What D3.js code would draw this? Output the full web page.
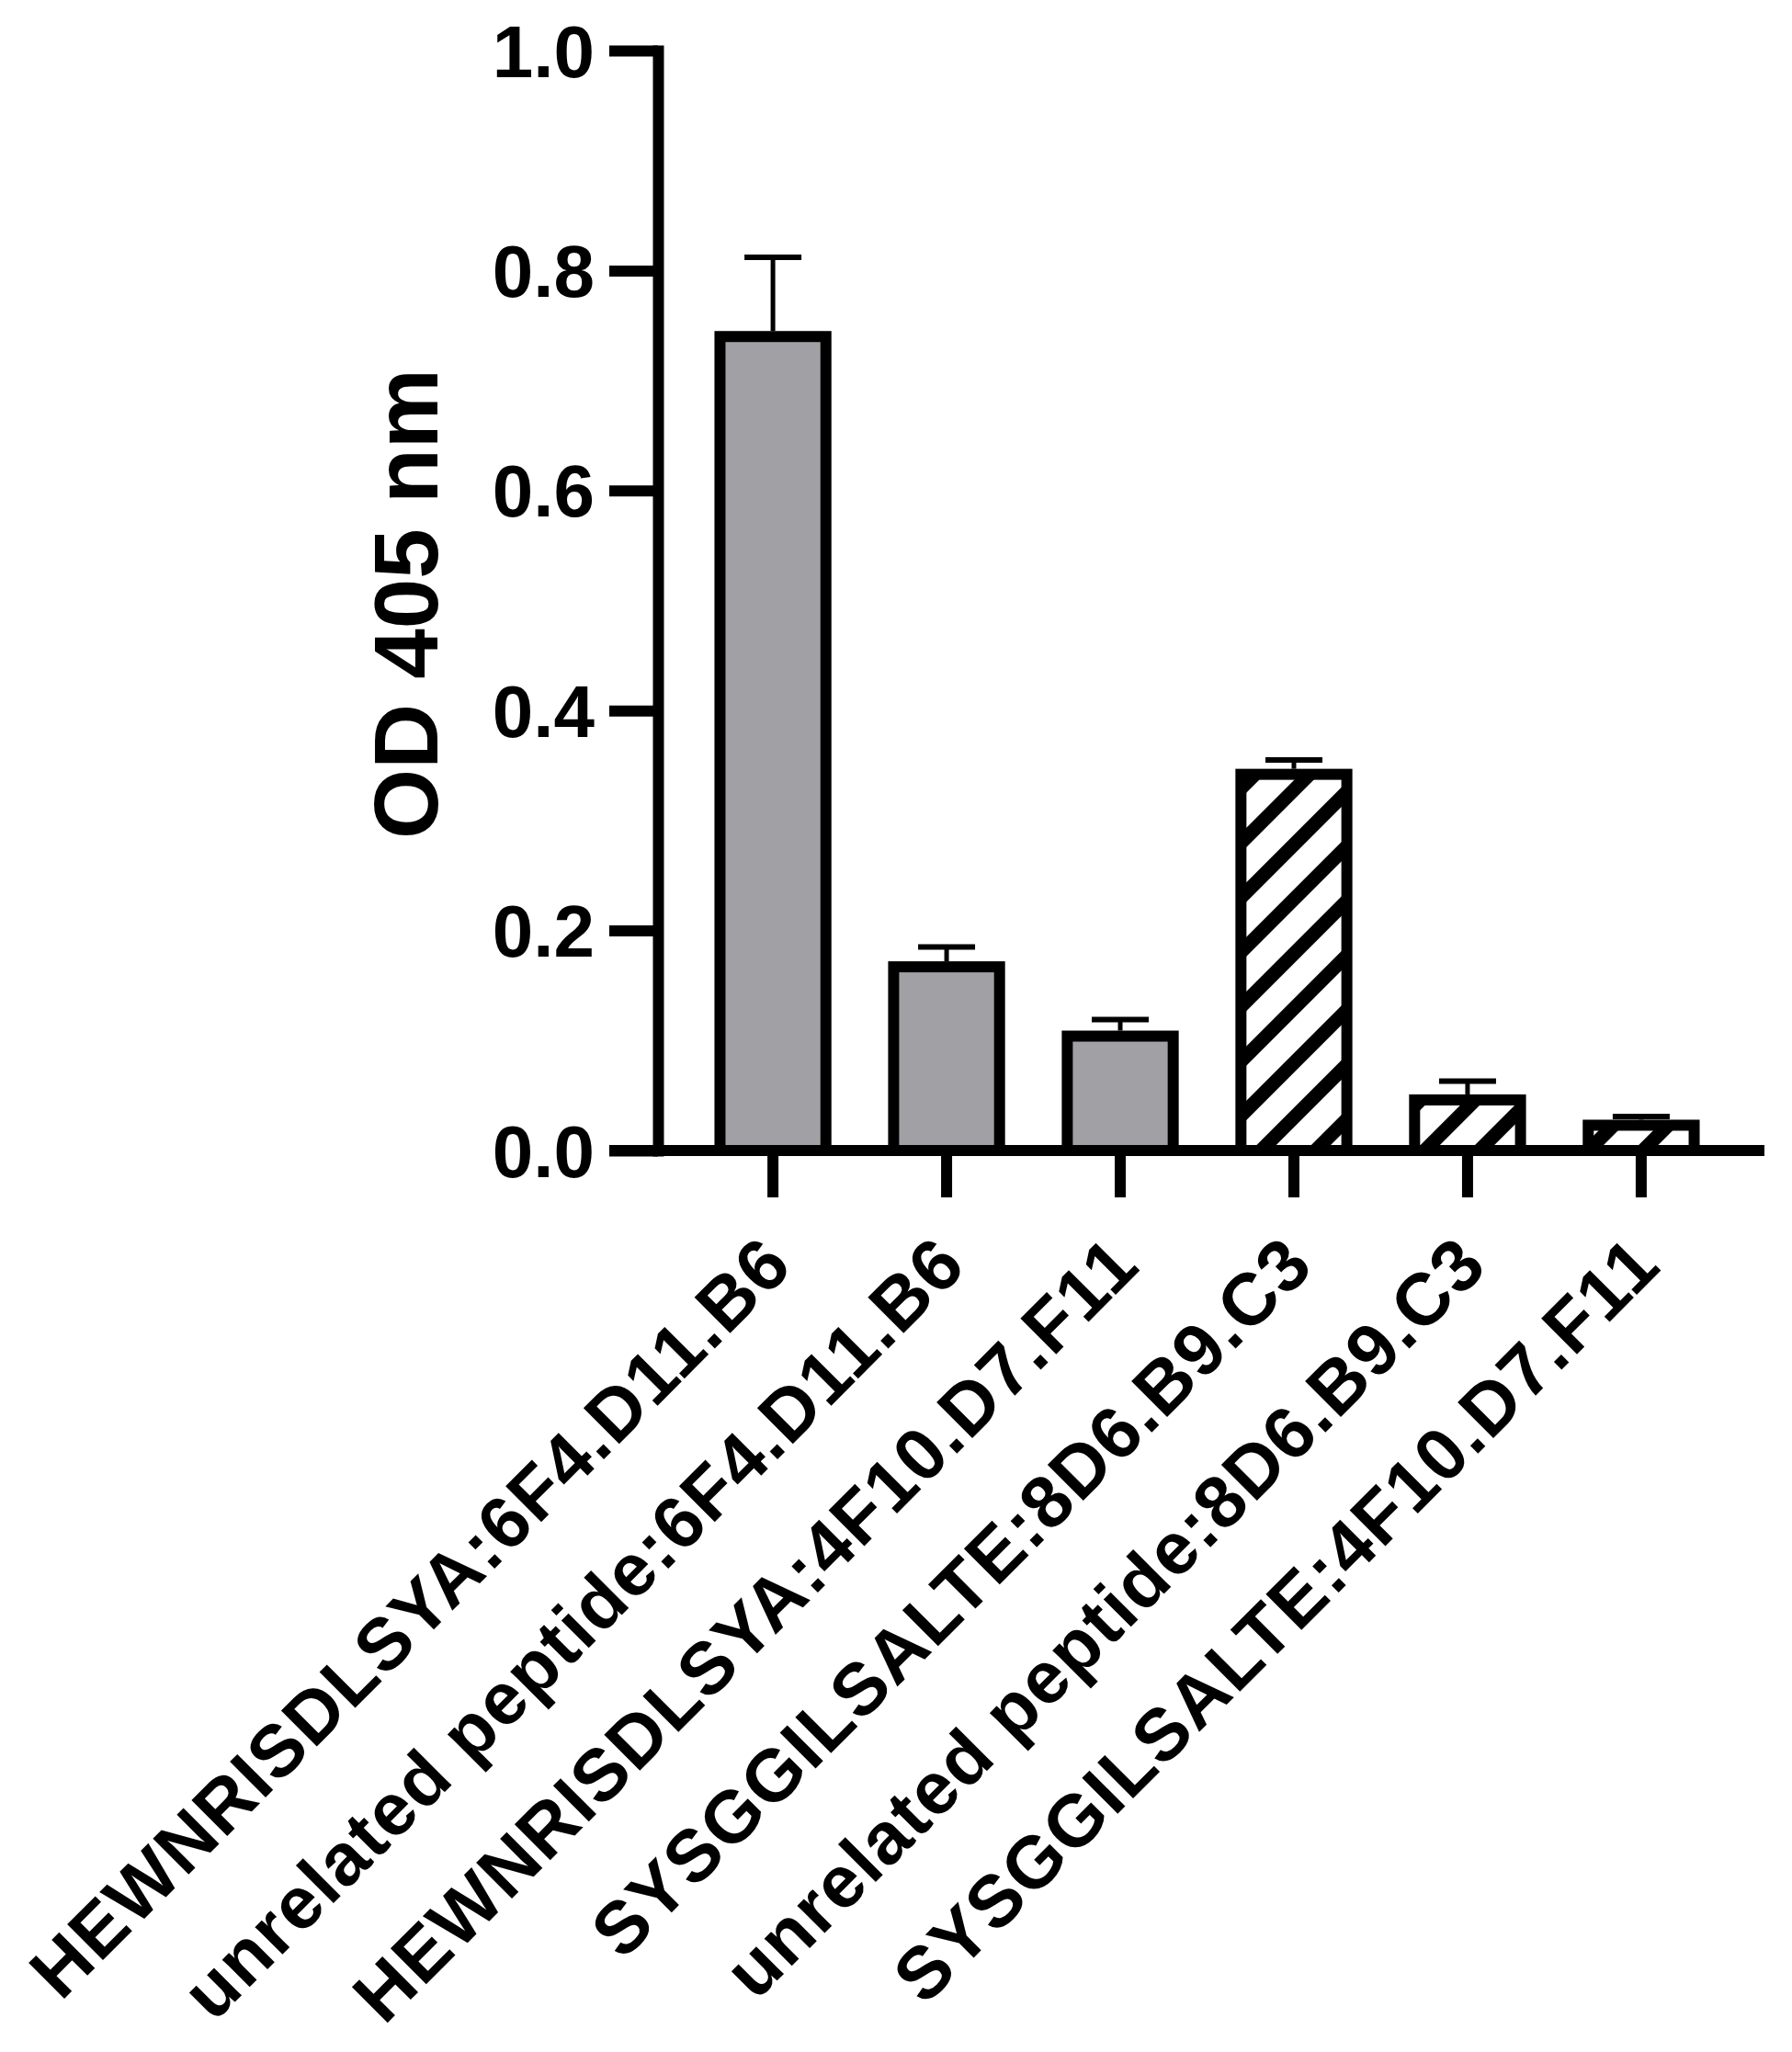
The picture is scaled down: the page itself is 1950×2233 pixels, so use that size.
<!DOCTYPE html>
<html>
<head>
<meta charset="utf-8">
<script src="https://cdn.jsdelivr.net/npm/d3@7"></script>
<style>
  body { margin: 0; background: #fff; }
  svg { display: block; }
  text { font-family: "Liberation Sans", Arial, sans-serif; font-weight: bold; fill: #000; }
</style>
</head>
<body>
<div id="chart"></div>
<script>
// data
const categories = [
  'HEWNRISDLSYA:6F4.D11.B6',
  'unrelated peptide:6F4.D11.B6',
  'HEWNRISDLSYA:4F10.D7.F11',
  'SYSGGILSALTE:8D6.B9.C3',
  'unrelated peptide:8D6.B9.C3',
  'SYSGGILSALTE:4F10.D7.F11'
];
const means = [0.740, 0.167, 0.104, 0.342, 0.046, 0.023];
const errors = [0.072, 0.018, 0.015, 0.013, 0.017, 0.008];
const hatched = [false, false, false, true, true, true];
const yTicks = [0, 0.2, 0.4, 0.6, 0.8, 1.0];
const yTitle = 'OD 405 nm';

const width = 1950, height = 2233;
const lineW = 12;

const svg = d3.select('#chart').append('svg')
  .attr('width', width)
  .attr('height', height);

// diagonal stripes for the hatched bars
const defs = svg.append('defs');
const pat = defs.append('pattern')
  .attr('id', 'hatch')
  .attr('patternUnits', 'userSpaceOnUse')
  .attr('width', 42)
  .attr('height', 42)
  .attr('patternTransform', 'rotate(45)');
pat.append('rect').attr('width', 42).attr('height', 42).attr('fill', '#fff');
pat.append('rect').attr('width', 15).attr('height', 42).attr('fill', '#000');

const y = d3.scaleLinear().domain([0, 1]).range([1252, 55]);

const x = d3.scaleBand()
  .domain(categories)
  .range([716, 1911])
  .paddingInner(0.39)
  .paddingOuter(0.357);

// bars
const bars = svg.append('g');
bars.selectAll('rect')
  .data(categories)
  .join('rect')
  .attr('x', d => x(d))
  .attr('width', x.bandwidth())
  .attr('y', (d, i) => y(means[i]))
  .attr('height', (d, i) => y(0) - y(means[i]))
  .attr('fill', (d, i) => hatched[i] ? 'url(#hatch)' : '#a1a1a5')
  .attr('stroke', '#000')
  .attr('stroke-width', lineW);

// error bars (upper only)
const err = svg.append('g').attr('stroke', '#000');
err.selectAll('line.stem')
  .data(categories)
  .join('line')
  .attr('class', 'stem')
  .attr('x1', d => x(d) + x.bandwidth() / 2)
  .attr('x2', d => x(d) + x.bandwidth() / 2)
  .attr('y1', (d, i) => y(means[i]) - lineW / 2)
  .attr('y2', (d, i) => y(means[i] + errors[i]))
  .attr('stroke-width', 5);
err.selectAll('line.cap')
  .data(categories)
  .join('line')
  .attr('class', 'cap')
  .attr('x1', d => x(d) + x.bandwidth() / 2 - 31)
  .attr('x2', d => x(d) + x.bandwidth() / 2 + 31)
  .attr('y1', (d, i) => y(means[i] + errors[i]))
  .attr('y2', (d, i) => y(means[i] + errors[i]))
  .attr('stroke-width', 6);

// y axis
const yAxis = svg.append('g')
  .attr('transform', 'translate(716,0)')
  .call(d3.axisLeft(y)
    .tickValues(yTicks)
    .tickFormat(d3.format('.1f'))
    .tickSize(53)
    .tickSizeOuter(0)
    .tickPadding(16));
yAxis.select('.domain')
  .attr('stroke-width', lineW)
  .attr('stroke-linecap', 'square');
yAxis.selectAll('.tick line').attr('stroke-width', lineW);
yAxis.selectAll('.tick text')
  .attr('font-size', 80)
  .attr('dy', '0.35em');

// x axis
const xAxis = svg.append('g')
  .attr('transform', `translate(0,${y(0)})`)
  .call(d3.axisBottom(x).tickSize(51).tickSizeOuter(0));
xAxis.select('.domain').remove();
xAxis.append('line')
  .attr('x1', 663)
  .attr('x2', 1920)
  .attr('stroke', '#000')
  .attr('stroke-width', lineW);
xAxis.selectAll('.tick line').attr('stroke-width', lineW);
xAxis.selectAll('.tick text')
  .attr('x', 0)
  .attr('y', 0)
  .attr('dy', 0)
  .attr('font-size', 80)
  .attr('letter-spacing', 1.5)
  .attr('text-anchor', 'end')
  .attr('transform', 'translate(24,128) rotate(-45)');

svg.selectAll('.tick text').attr('fill', '#000');

// y title
svg.append('text')
  .attr('transform', 'translate(476,657) rotate(-90)')
  .attr('text-anchor', 'middle')
  .attr('font-size', 98)
  .text(yTitle);
</script>
</body>
</html>
